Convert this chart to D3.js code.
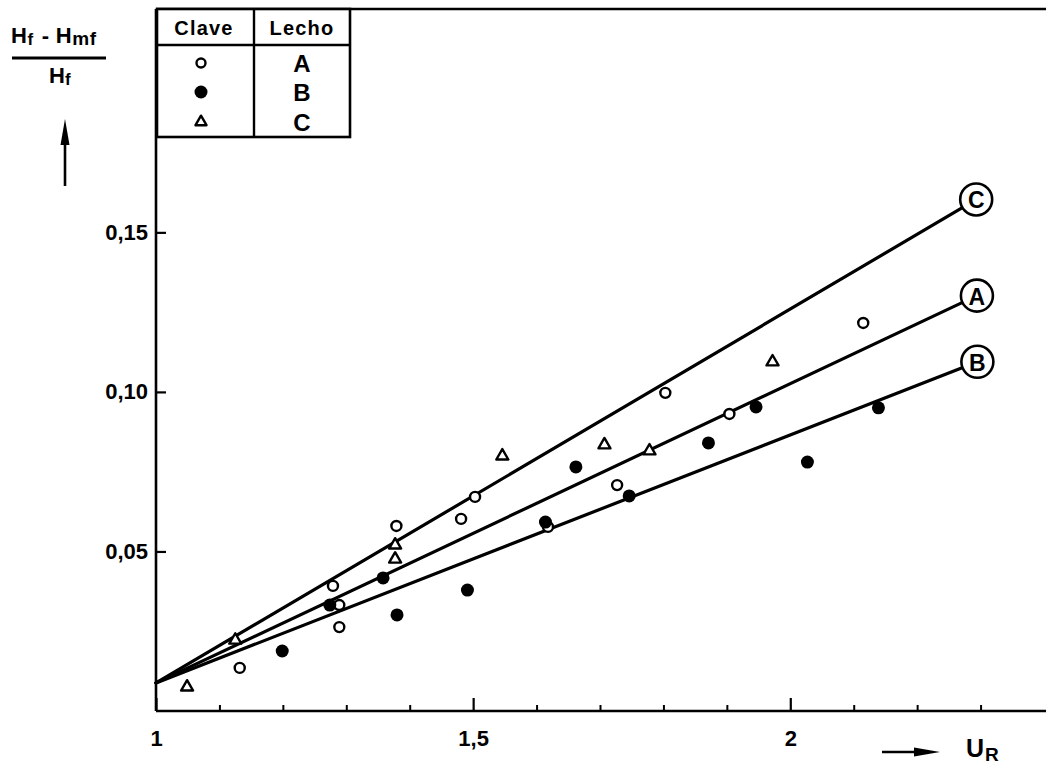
<!DOCTYPE html>
<html>
<head>
<meta charset="utf-8">
<script src="https://cdn.jsdelivr.net/npm/d3@7"></script>
<style>
  html, body { margin: 0; padding: 0; background: #fff; }
  svg { display: block; }
  text { font-family: "Liberation Sans", Arial, sans-serif; font-weight: bold; fill: #000; }
</style>
</head>
<body>
<svg id="chart" width="1046" height="765"></svg>
<script>
// Measured points, bed A (open circles): [U_R, (Hf - Hmf)/Hf]
const bedA = [
  [1.132, 0.0135], [1.279, 0.0392], [1.289, 0.0332], [1.289, 0.0263],
  [1.379, 0.0580], [1.481, 0.0602], [1.503, 0.0671], [1.618, 0.0577],
  [1.727, 0.0708], [1.803, 0.0997], [1.904, 0.0931], [2.115, 0.1216]
];
// Bed B (filled circles)
const bedB = [
  [1.199, 0.0188], [1.274, 0.0332], [1.358, 0.0417], [1.380, 0.0301],
  [1.491, 0.0379], [1.614, 0.0592], [1.662, 0.0765], [1.746, 0.0674],
  [1.871, 0.0840], [1.946, 0.0953], [2.027, 0.0780], [2.139, 0.0950]
];
// Bed C (open triangles)
const bedC = [
  [1.049, 0.0075], [1.125, 0.0222], [1.377, 0.0520], [1.377, 0.0476],
  [1.546, 0.0799], [1.707, 0.0834], [1.778, 0.0815], [1.972, 0.1094]
];

// Fitted straight lines: common origin, end values per bed
const fitNames = ["C", "A", "B"];
const fitStart = [1, 0.0088];
const fitEndX = 2.27;
const fitEndY = [0.1576, 0.1279, 0.1075];

// Axis ticks
const xMajorTicks = [1, 1.5, 2];
const xMajorLabels = ["1", "1,5", "2"];
const xMinorTicks = [1.1, 1.2, 1.3, 1.4, 1.6, 1.7, 1.8, 1.9, 2.1, 2.2, 2.3];
const yTicks = [0.05, 0.10, 0.15];
const yTickLabels = ["0,05", "0,10", "0,15"];

// Key table
const keyHeaders = ["Clave", "Lecho"];
const keyRows = ["A", "B", "C"];

const svg = d3.select("#chart");
const W = 1046;

const x = d3.scaleLinear().domain([1, 2.4]).range([156, 1044]);
const y = d3.scaleLinear().domain([0, 0.22]).range([711, 9]);

const ink = "#000";
const tickFont = "'Liberation Sans', Arial, sans-serif";

// Top border of the plot frame
svg.append("line").attr("x1", x(1)).attr("x2", W).attr("y1", y(0.22)).attr("y2", y(0.22))
  .attr("stroke", ink).attr("stroke-width", 2.6);

// X axis: minor ticks, then major ticks with labels
const gx = svg.append("g").attr("transform", `translate(0,${y(0)})`);
gx.append("line").attr("x1", x(1)).attr("x2", W).attr("stroke", ink).attr("stroke-width", 2.6);
gx.append("g").call(d3.axisBottom(x).tickValues(xMinorTicks).tickSize(-6).tickSizeOuter(0).tickFormat(""))
  .call(g => g.select(".domain").remove())
  .call(g => g.selectAll(".tick line").attr("stroke", ink).attr("stroke-width", 2));
gx.append("g").call(d3.axisBottom(x).tickValues(xMajorTicks).tickSize(-13).tickSizeOuter(0)
    .tickPadding(19).tickFormat((d, i) => xMajorLabels[i]))
  .call(g => g.select(".domain").remove())
  .call(g => g.selectAll(".tick line").attr("stroke", ink).attr("stroke-width", 2.2))
  .call(g => g.selectAll(".tick text").attr("font-size", 22).attr("fill", ink)
    .style("font-family", tickFont).style("font-weight", "bold"));

// Y axis
const gy = svg.append("g").attr("transform", `translate(${x(1)},0)`);
gy.append("line").attr("y1", y(0.22)).attr("y2", y(0)).attr("stroke", ink).attr("stroke-width", 2.6);
gy.append("g").call(d3.axisLeft(y).tickValues(yTicks).tickSize(-10).tickSizeOuter(0)
    .tickPadding(8).tickFormat((d, i) => yTickLabels[i]))
  .call(g => g.select(".domain").remove())
  .call(g => g.selectAll(".tick line").attr("stroke", ink).attr("stroke-width", 2.2))
  .call(g => g.selectAll(".tick text").attr("font-size", 22).attr("fill", ink)
    .style("font-family", tickFont).style("font-weight", "bold"));

// Fitted lines with circled labels
fitNames.forEach((name, i) => {
  const x0 = x(fitStart[0]), y0 = y(fitStart[1]);
  const x1 = x(fitEndX), y1 = y(fitEndY[i]);
  svg.append("line").attr("x1", x0).attr("y1", y0).attr("x2", x1).attr("y2", y1)
    .attr("stroke", ink).attr("stroke-width", 3.2).attr("stroke-linecap", "round");
  const len = Math.hypot(x1 - x0, y1 - y0);
  const r = 16;
  const cx = x1 + (x1 - x0) / len * (r + 1);
  const cy = y1 + (y1 - y0) / len * (r + 1);
  svg.append("circle").attr("cx", cx).attr("cy", cy).attr("r", r)
    .attr("fill", "#fff").attr("stroke", ink).attr("stroke-width", 2.6);
  svg.append("text").attr("x", cx).attr("y", cy + 1).attr("text-anchor", "middle")
    .attr("dominant-baseline", "central").attr("font-size", 23).text(name);
});

// Markers
const triPath = (s) => {
  const h = s * Math.sqrt(3) / 2;
  return `M0,${-h * 2 / 3}L${s / 2},${h / 3}L${-s / 2},${h / 3}Z`;
};

svg.append("g").selectAll("circle").data(bedA).join("circle")
  .attr("cx", d => x(d[0])).attr("cy", d => y(d[1])).attr("r", 5)
  .attr("fill", "#fff").attr("stroke", ink).attr("stroke-width", 2.4);
svg.append("g").selectAll("circle").data(bedB).join("circle")
  .attr("cx", d => x(d[0])).attr("cy", d => y(d[1])).attr("r", 6.5)
  .attr("fill", ink);
svg.append("g").selectAll("path").data(bedC).join("path")
  .attr("transform", d => `translate(${x(d[0])},${y(d[1])})`)
  .attr("d", triPath(12)).attr("fill", "#fff").attr("stroke", ink)
  .attr("stroke-width", 2.4).attr("stroke-linejoin", "round");

// Key table in the upper-left corner
const key = svg.append("g");
const kL = 157, kR = 350, kT = 9, kH = 45, kB = 137, kMid = 254;
key.append("rect").attr("x", kL).attr("y", kT).attr("width", kR - kL).attr("height", kB - kT)
  .attr("fill", "#fff").attr("stroke", ink).attr("stroke-width", 2.6);
key.append("line").attr("x1", kL).attr("x2", kR).attr("y1", kH).attr("y2", kH)
  .attr("stroke", ink).attr("stroke-width", 2.4);
key.append("line").attr("x1", kMid).attr("x2", kMid).attr("y1", kT).attr("y2", kB)
  .attr("stroke", ink).attr("stroke-width", 2.4);
key.append("text").attr("x", 204).attr("y", 35).attr("text-anchor", "middle")
  .attr("font-size", 20).attr("letter-spacing", 1.2).text(keyHeaders[0]);
key.append("text").attr("x", 302).attr("y", 35).attr("text-anchor", "middle")
  .attr("font-size", 20).attr("letter-spacing", 1.2).text(keyHeaders[1]);
const rowY = [63, 92, 122];
const kSym = 201;
key.append("circle").attr("cx", kSym).attr("cy", rowY[0]).attr("r", 4.5)
  .attr("fill", "#fff").attr("stroke", ink).attr("stroke-width", 2.4);
key.append("circle").attr("cx", kSym).attr("cy", rowY[1]).attr("r", 6.5).attr("fill", ink);
key.append("path").attr("transform", `translate(${kSym},${rowY[2]})`).attr("d", triPath(11))
  .attr("fill", "#fff").attr("stroke", ink).attr("stroke-width", 2.4).attr("stroke-linejoin", "round");
keyRows.forEach((t, i) => {
  key.append("text").attr("x", 302).attr("y", rowY[i] + 9).attr("text-anchor", "middle")
    .attr("font-size", 24).text(t);
});

// Y axis title as a fraction, with upward arrow
const yt = svg.append("text").attr("x", 11).attr("y", 43).attr("font-size", 22).attr("letter-spacing", 0.6);
yt.append("tspan").text("H");
yt.append("tspan").attr("dy", 2).attr("font-size", 17).text("f");
yt.append("tspan").attr("dy", -2).attr("dx", 8).text("-");
yt.append("tspan").attr("dx", 6).text("H");
yt.append("tspan").attr("dy", 2).attr("font-size", 19).text("mf");
svg.append("line").attr("x1", 12).attr("x2", 106).attr("y1", 58).attr("y2", 58)
  .attr("stroke", ink).attr("stroke-width", 2.8);
const yb = svg.append("text").attr("x", 49).attr("y", 83).attr("font-size", 22);
yb.append("tspan").text("H");
yb.append("tspan").attr("dy", 2).attr("font-size", 17).text("f");
svg.append("line").attr("x1", 65).attr("x2", 65).attr("y1", 186).attr("y2", 138)
  .attr("stroke", ink).attr("stroke-width", 2.6);
svg.append("path").attr("d", "M65,119L69.5,145L60.5,145Z").attr("fill", ink);

// X axis title with arrow
svg.append("line").attr("x1", 882).attr("x2", 920).attr("y1", 752).attr("y2", 752)
  .attr("stroke", ink).attr("stroke-width", 2.4);
svg.append("path").attr("d", "M940,752L914,747.5L914,756.5Z").attr("fill", ink);
const xt = svg.append("text").attr("x", 966).attr("y", 757).attr("font-size", 25);
xt.append("tspan").text("U");
xt.append("tspan").attr("dy", 4).attr("dx", 1).attr("font-size", 19).text("R");
</script>
</body>
</html>
